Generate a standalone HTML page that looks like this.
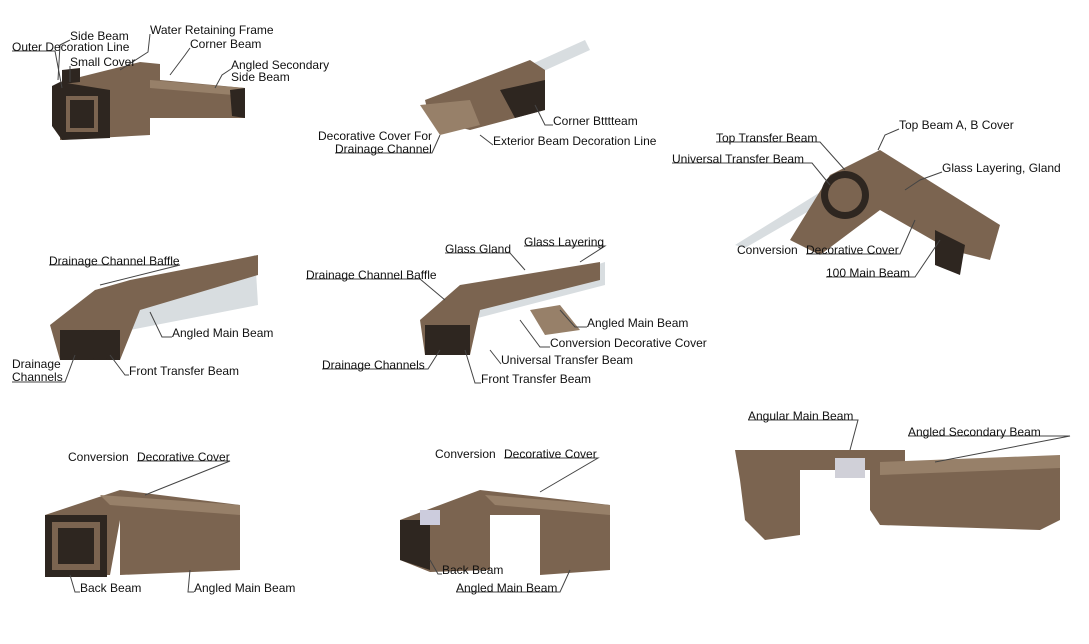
<!DOCTYPE html>
<html><head><meta charset="utf-8"><style>
html,body{margin:0;padding:0;background:#fff;}
svg{display:block;}
text{font-family:"Liberation Sans",Arial,sans-serif;font-size:12px;fill:#111;}
.l{stroke:#444;stroke-width:1;fill:none;}
.b{fill:#7b6450;}
.d{fill:#2e2620;}
.m{fill:#978069;}
.g{fill:#d8dde0;}
</style></head><body>
<svg width="1089" height="644" viewBox="0 0 1089 644">
<!-- Group 1 top-left -->
<polygon class="b" points="60,82 140,62 160,64 160,80 245,88 245,118 150,118 150,135 60,140"/>
<polygon class="m" points="150,80 245,88 245,96 150,88"/>
<polygon class="d" points="52,86 60,82 110,90 110,138 62,140 52,126"/>
<rect class="b" x="66" y="96" width="32" height="36"/>
<rect class="d" x="70" y="100" width="24" height="28"/>
<polygon class="d" points="62,70 80,68 80,82 62,84"/>
<polygon class="d" points="230,90 245,88 245,118 232,116"/>
<!-- Group 2 top-middle -->
<polygon class="g" points="430,110 585,40 590,50 440,118"/>
<polygon class="b" points="425,100 530,60 545,70 545,110 470,130 430,120"/>
<polygon class="d" points="500,90 545,80 545,110 515,118"/>
<polygon class="m" points="420,105 470,100 480,125 440,135"/>
<!-- Group 3 top-right -->
<polygon class="g" points="735,245 880,155 1000,225 990,235 880,170 745,248"/>
<polygon class="b" points="790,240 830,175 880,150 920,175 1000,225 990,260 950,250 880,210 820,255"/>
<circle class="d" cx="845" cy="195" r="24"/>
<circle class="b" cx="845" cy="195" r="17"/>
<polygon class="d" points="935,230 965,245 960,275 935,265"/>
<!-- Group 4 mid-left -->
<polygon class="g" points="100,300 255,255 258,305 130,330"/>
<polygon class="b" points="50,325 95,290 130,280 258,255 258,275 140,310 120,360 60,360"/>
<polygon class="d" points="60,330 120,330 120,360 60,360"/>
<circle class="d" cx="100" cy="345" r="15"/>
<!-- Group 5 center -->
<polygon class="g" points="460,310 605,262 605,285 470,320"/>
<polygon class="b" points="420,320 460,285 600,262 600,280 480,310 470,355 425,355"/>
<polygon class="d" points="425,325 470,325 470,355 425,355"/>
<polygon class="m" points="530,310 560,305 580,330 545,335"/>
<!-- Group 6 bottom-left -->
<polygon class="b" points="45,515 120,490 240,505 240,570 120,575 120,520 110,575 45,575"/>
<polygon class="m" points="100,495 240,505 240,515 110,505"/>
<rect class="d" x="45" y="515" width="62" height="62"/>
<rect class="b" x="52" y="522" width="48" height="48"/>
<rect class="d" x="58" y="528" width="36" height="36"/>
<!-- Group 7 bottom-middle -->
<polygon class="b" points="400,520 480,490 610,505 610,570 540,575 540,515 490,515 490,570 430,572 400,560"/>
<polygon class="d" points="400,520 430,520 430,570 400,560"/>
<polygon class="m" points="485,495 610,505 610,515 495,505"/>
<rect x="420" y="510" width="20" height="15" fill="#ccd"/>
<!-- Group 8 bottom-right -->
<polygon class="b" points="735,450 905,450 905,470 800,470 800,535 765,540 745,520 740,480"/>
<polygon class="b" points="870,470 1060,460 1060,520 1040,530 880,525 870,510"/>
<polygon class="m" points="880,462 1060,455 1060,468 880,475"/>
<rect x="835" y="458" width="30" height="20" fill="#d0d0d8"/>
<!-- leader lines -->
<g class="l">
<path d="M70,40 L60,45 L58,80"/>
<path d="M12,51 L55,51 L62,88"/>
<path d="M150,34 L148,52 L120,70"/>
<path d="M190,48 L185,55 L170,75"/>
<path d="M70,66 L70,82"/>
<path d="M231,69 L222,75 L215,88"/>
<path d="M335,153 L432,153 L440,135"/>
<path d="M553,125 L545,125 L535,105"/>
<path d="M493,145 L480,135"/>
<path d="M716,142 L820,142 L845,170"/>
<path d="M899,129 L885,135 L878,150"/>
<path d="M672,163 L812,163 L830,185"/>
<path d="M942,172 L920,180 L905,190"/>
<path d="M806,254 L900,254 L915,220"/>
<path d="M826,277 L915,277 L940,240"/>
<path d="M49,265 L180,265 L100,285"/>
<path d="M172,337 L162,337 L150,312"/>
<path d="M12,382 L65,382 L75,355"/>
<path d="M129,375 L125,375 L110,355"/>
<path d="M445,253 L510,253 L525,270"/>
<path d="M524,246 L605,246 L580,262"/>
<path d="M306,279 L420,279 L445,300"/>
<path d="M587,327 L575,327 L560,310"/>
<path d="M550,347 L540,347 L520,320"/>
<path d="M501,364 L490,350"/>
<path d="M322,369 L428,369 L440,350"/>
<path d="M481,383 L475,383 L465,350"/>
<path d="M137,461 L230,461 L145,495"/>
<path d="M80,592 L75,592 L70,575"/>
<path d="M194,592 L188,592 L190,570"/>
<path d="M504,458 L598,458 L540,492"/>
<path d="M442,574 L438,574 L430,560"/>
<path d="M456,592 L560,592 L570,570"/>
<path d="M748,420 L858,420 L850,450"/>
<path d="M908,436 L1070,436 L935,462"/>
</g>
<!-- labels -->
<text x="70" y="40">Side Beam</text>
<text x="12" y="51">Outer Decoration Line</text>
<text x="150" y="34">Water Retaining Frame</text>
<text x="190" y="48">Corner Beam</text>
<text x="70" y="66">Small Cover</text>
<text x="231" y="69">Angled Secondary</text>
<text x="231" y="81">Side Beam</text>
<text x="318" y="140">Decorative Cover For</text>
<text x="335" y="153">Drainage Channel</text>
<text x="553" y="125">Corner Btttteam</text>
<text x="493" y="145">Exterior Beam Decoration Line</text>
<text x="716" y="142">Top Transfer Beam</text>
<text x="899" y="129">Top Beam A, B Cover</text>
<text x="672" y="163">Universal Transfer Beam</text>
<text x="942" y="172">Glass Layering, Gland</text>
<text x="737" y="254">Conversion</text>
<text x="806" y="254">Decorative Cover</text>
<text x="826" y="277">100 Main Beam</text>
<text x="49" y="265">Drainage Channel Baffle</text>
<text x="172" y="337">Angled Main Beam</text>
<text x="12" y="368">Drainage</text>
<text x="12" y="381">Channels</text>
<text x="129" y="375">Front Transfer Beam</text>
<text x="445" y="253">Glass Gland</text>
<text x="524" y="246">Glass Layering</text>
<text x="306" y="279">Drainage Channel Baffle</text>
<text x="587" y="327">Angled Main Beam</text>
<text x="550" y="347">Conversion Decorative Cover</text>
<text x="501" y="364">Universal Transfer Beam</text>
<text x="322" y="369">Drainage Channels</text>
<text x="481" y="383">Front Transfer Beam</text>
<text x="68" y="461">Conversion</text>
<text x="137" y="461">Decorative Cover</text>
<text x="80" y="592">Back Beam</text>
<text x="194" y="592">Angled Main Beam</text>
<text x="435" y="458">Conversion</text>
<text x="504" y="458">Decorative Cover</text>
<text x="442" y="574">Back Beam</text>
<text x="456" y="592">Angled Main Beam</text>
<text x="748" y="420">Angular Main Beam</text>
<text x="908" y="436">Angled Secondary Beam</text>
</svg>
</body></html>
